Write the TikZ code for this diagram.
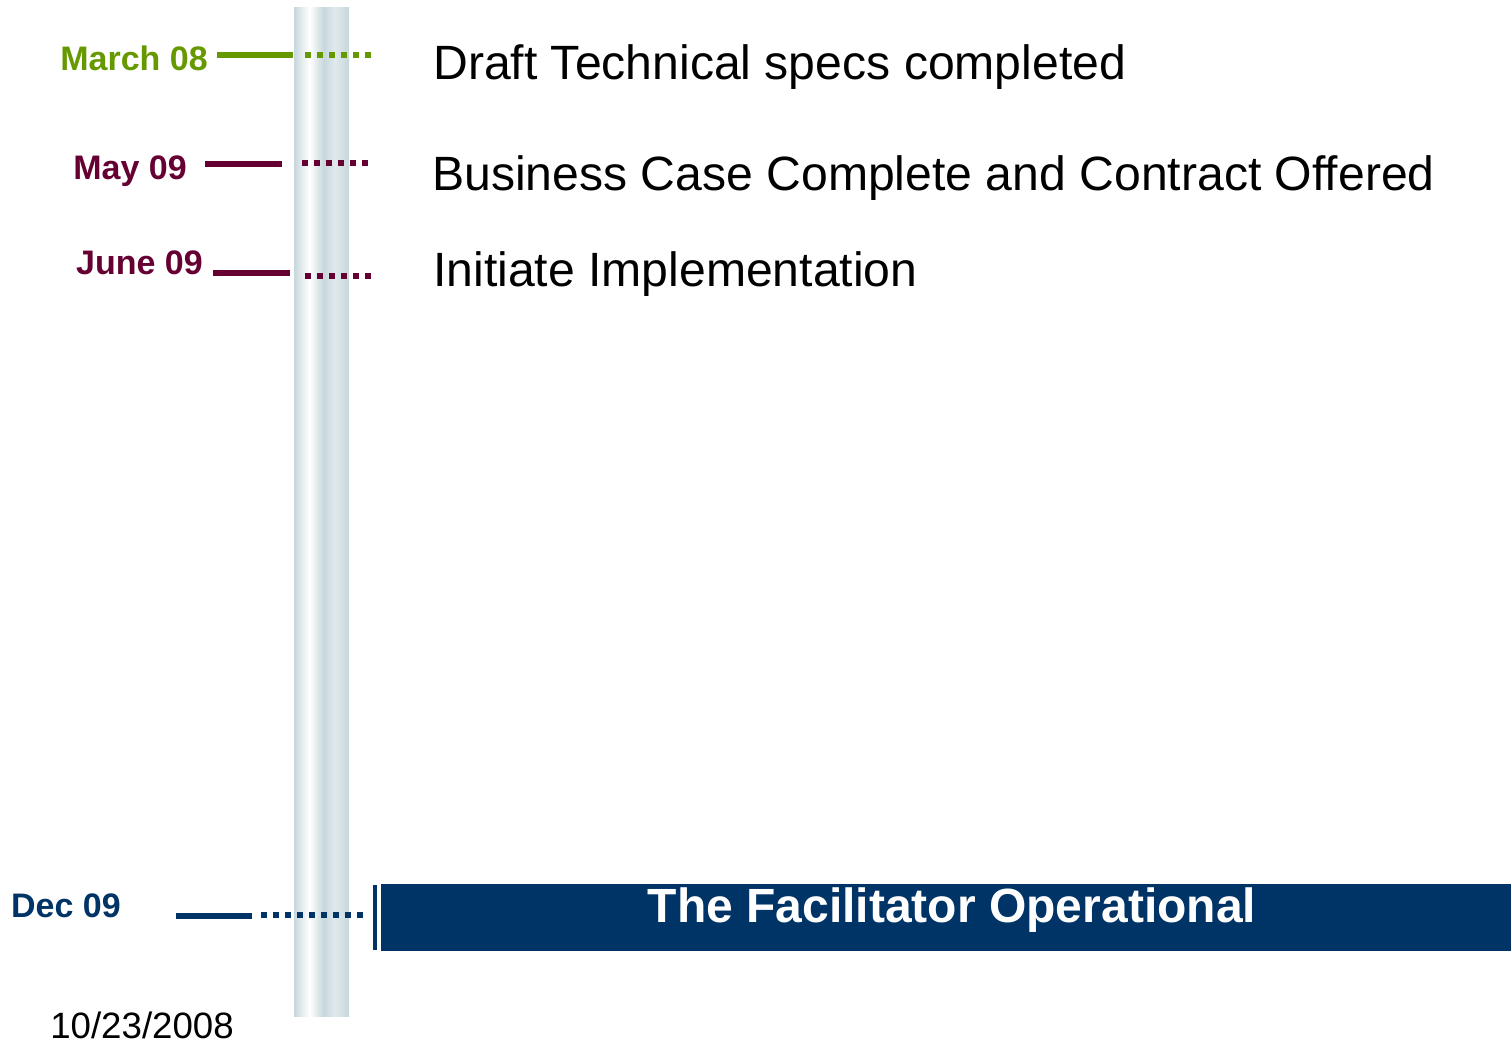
\documentclass[tikz,border=0pt]{standalone}
\usepackage{fontspec}
\setmainfont{Liberation Sans}
\definecolor{mgreen}{RGB}{102,153,0}
\definecolor{mmaroon}{RGB}{102,0,51}
\definecolor{mnavy}{RGB}{0,51,102}
\definecolor{bargrey}{RGB}{199,215,220}
\pgfdeclarehorizontalshading{barshade}{100bp}{color(0bp)=(bargrey); color(25bp)=(bargrey); color(39bp)=(white); color(52bp)=(bargrey); color(62bp)=(bargrey!55); color(75bp)=(bargrey); color(100bp)=(bargrey)}
\tikzstyle{date}=[font=\bfseries\fontsize{25.5}{30}\selectfont, inner sep=0pt, anchor=base east]
\tikzstyle{event}=[font=\fontsize{36.1}{42}\selectfont, inner sep=0pt, anchor=base west]
\tikzstyle{lead}=[line width=4.5pt]
\tikzstyle{dot line}=[line width=4.5pt, dash pattern=on 4.5pt off 4.5pt]

\begin{document}
\begin{tikzpicture}[x=0.75pt, y=-0.75pt]
	\useasboundingbox (0,0) rectangle (1511,1044);
	% the timeline bar
	\fill[shading=barshade] (294,8) rectangle (349,1016);

	% First we draw the date labels
	\foreach \pos/\name/\col/\txt in {{(208,71)/mar/mgreen/March 08}, {(187,180)/may/mmaroon/May 09}, {(203,275)/jun/mmaroon/June 09}, {(121,917)/dec/mnavy/Dec 09}}
	\node[date, text=\col] (\name) at \pos {\txt};

	% Solid and dotted lead lines
	\foreach \name/\col/\a/\b/\y/\c/\d/\z in {mar/mgreen/217/293/55.5/305/371/55.5, may/mmaroon/205/282/164/302/368/163.5, jun/mmaroon/213/290/273/305/371/276, dec/mnavy/176/252/916/261/363/915}
	{
		\coordinate (\name-s) at (\a,\y);
		\coordinate (\name-e) at (\b,\y);
		\coordinate (\name-ds) at (\c,\z);
		\coordinate (\name-de) at (\d,\z);
		\draw[lead, \col] (\name-s) -- (\name-e);
		\draw[dot line, \col] (\name-ds) -- (\name-de);
	}

	% Events
	\foreach \pos/\name/\txt in {{(433,80)/draft/Draft Technical specs completed}, {(432,191)/case/Business Case Complete and Contract Offered}, {(433,287)/impl/Initiate Implementation}}
	\node[event] (\name) at \pos {\txt};

	% Final milestone banner
	\fill[mnavy] (381,884) rectangle (1511,951);
	\coordinate (bar-top) at (375,885);
	\coordinate (bar-bot) at (375,950);
	\draw[mnavy, line width=2.5pt] (bar-top) -- (bar-bot);
	\node[font=\bfseries\fontsize{36}{42}\selectfont, text=white, inner sep=0pt, anchor=base] (facil) at (952,922) {The Facilitator Operational};

	\node[font=\fontsize{27.5}{32}\selectfont, inner sep=0pt, anchor=base west] (stamp) at (50,1038) {10/23/2008};
\end{tikzpicture}
\end{document}
